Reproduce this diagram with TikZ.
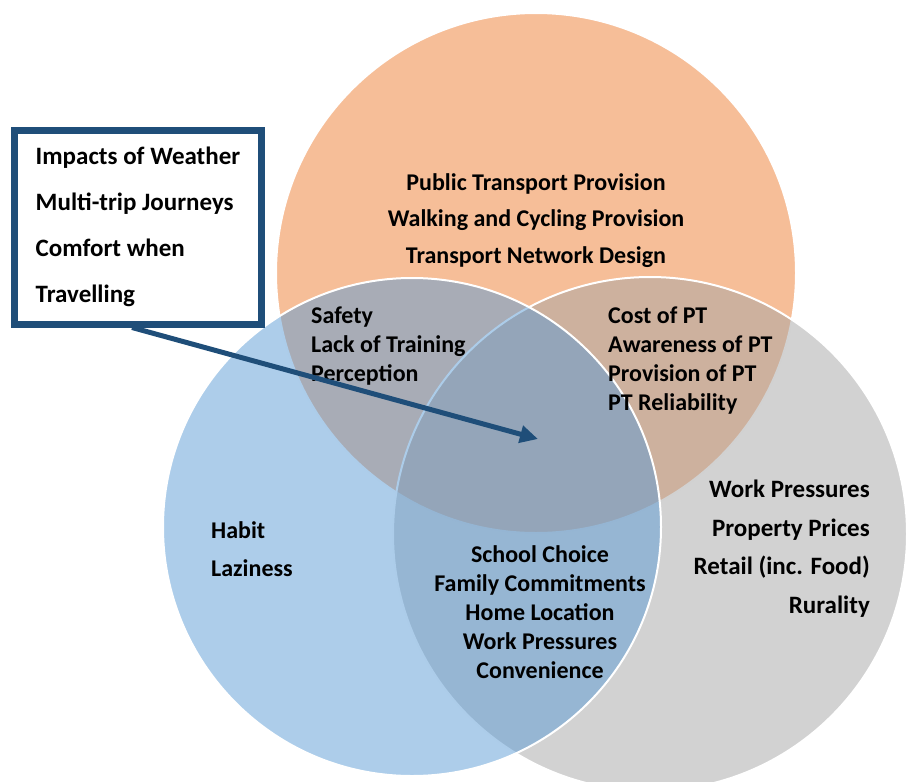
\documentclass[tikz,border=0pt]{standalone}
\usepackage{fontspec}
\setmainfont{Carlito}
\usetikzlibrary{arrows.meta}
\definecolor{vorange}{HTML}{ED7D31}
\definecolor{vblue}{HTML}{5B9BD5}
\definecolor{vgrey}{HTML}{A5A5A5}
\definecolor{boxblue}{HTML}{1F4E79}
\tikzset{
	venn/.style={draw=white, line width=2pt, fill opacity=0.5},
	venntext/.style={inner sep=0pt, font=\bfseries\fontsize{24}{#1}\selectfont},
}

\begin{document}
\begin{tikzpicture}[x=1pt, y=-1pt]
			%%%%% START %%%%%
			\useasboundingbox (0,0) rectangle (908,782);
			\clip (0,0) rectangle (908,782);
			
			\draw[venn, fill=vorange] (536,273) circle [radius=260];
			\draw[venn, fill=vgrey] (650,534) circle [radius=257];
			\draw[venn, fill=vblue] (412,527) circle [radius=249];
			
			\node[venntext=36.5, align=center] (network) at (536,220.5) {Public Transport Provision\\Walking and Cycling Provision\\Transport Network Design};
			\node[venntext=29, align=left, anchor=west] (safety) at (311,346) {Safety\\Lack of Training\\Perception};
			\node[venntext=29, align=left, anchor=west] (costpt) at (608,361) {Cost of PT\\Awareness of PT\\Provision of PT\\PT Reliability};
			\node[venntext=38.5, align=right, anchor=east, font=\bfseries\fontsize{25}{38.5}\selectfont] (land) at (870,548.5) {Work Pressures\\Property Prices\\Retail (inc. Food)\\Rurality};
			\node[venntext=38, align=left, anchor=west] (habit) at (211,549) {Habit\\Laziness};
			\node[venntext=29, align=center] (school) at (540,612) {School Choice\\Family Commitments\\Home Location\\Work Pressures\\Convenience};
			
			\node[draw=boxblue, line width=7pt, fill=white, minimum width=247pt, minimum height=194pt, inner sep=0pt, align=left, font=\bfseries\fontsize{25}{46}\selectfont] (weather) at (138,227) {Impacts of Weather\\Multi-trip Journeys\\Comfort when\\Travelling};
			
			\coordinate (core) at (538,439);
			\draw[line width=5pt, boxblue, -{Triangle[length=18pt, width=17pt]}] ([xshift=-6pt]weather.south) -- (core);
			%%%%% END %%%%%
\end{tikzpicture}
\end{document}
